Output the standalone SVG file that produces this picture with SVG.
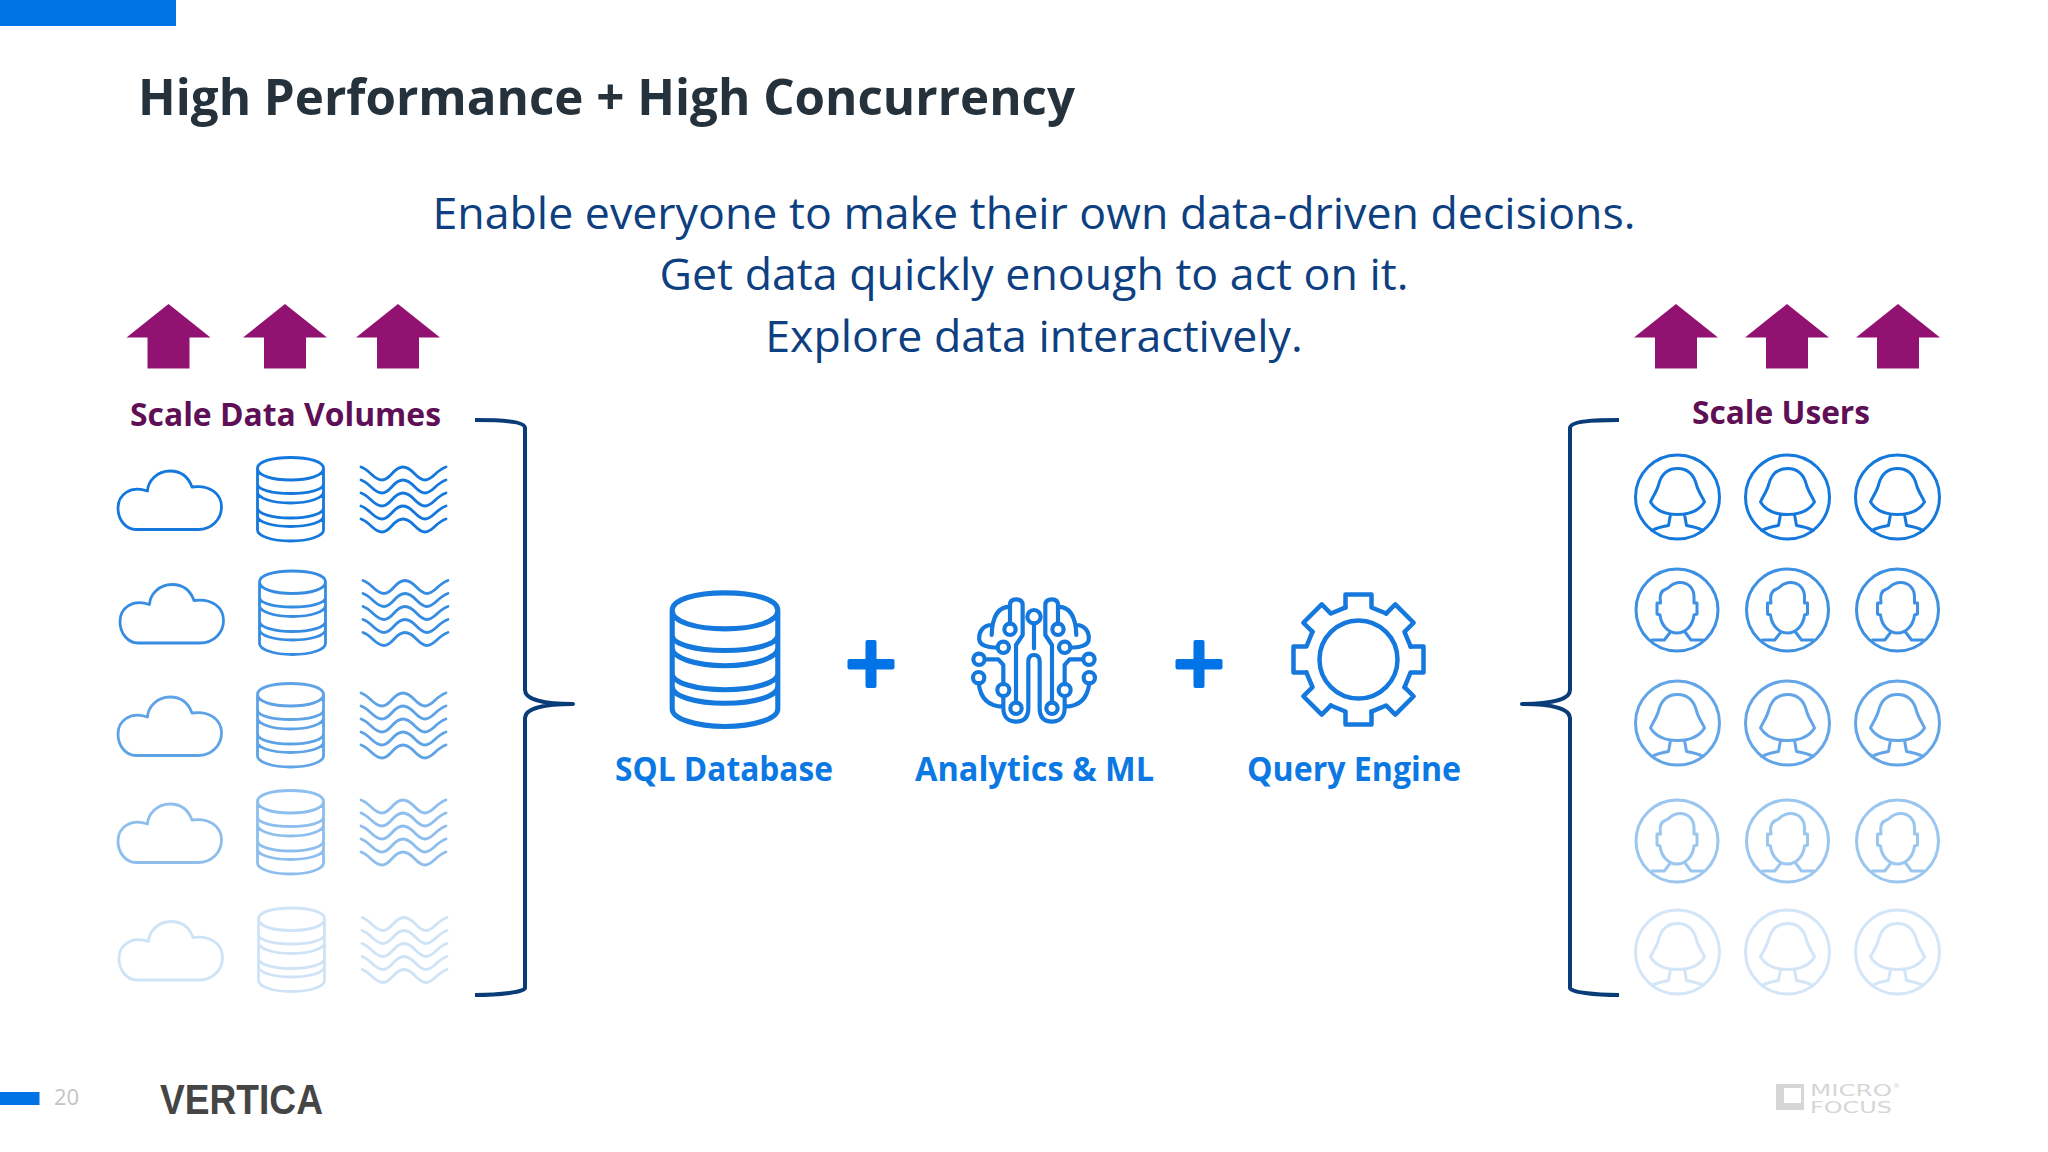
<svg xmlns="http://www.w3.org/2000/svg" xmlns:xlink="http://www.w3.org/1999/xlink" width="2048" height="1152" viewBox="0 0 2048 1152">
<style>
.i{fill:none;stroke:#1478dc;stroke-linecap:round;stroke-linejoin:round}
.s{stroke-width:2.8}
.u{stroke-width:3}
.lab{font-family:"Open Sans","Noto Sans",sans-serif;font-weight:700;font-size:34px;fill:#0b78e3}
.sc{font-family:"Open Sans","Noto Sans",sans-serif;font-weight:700;font-size:33px;fill:#5f0f56}
.sub{font-family:"Open Sans","Noto Sans",sans-serif;font-size:44.700px;fill:#0e3f80;text-anchor:middle}
.arrow{fill:#921272}
.br{fill:none;stroke:#0a3c78;stroke-width:4;stroke-linejoin:round}
.mf{font-family:"DejaVu Sans",sans-serif;font-size:16px;fill:#d6d6d6}
</style>
<defs>
<polygon id="arr" points="0,0 42,33.500 21,33.500 21,64.500 -21,64.500 -21,33.500 -42,33.500"/>
<path id="cloud" d="M136 529.500H198C212 529.500 221.500 519 221.500 507C221.500 494 210 484.500 192 487C188 476 180 471 170 471C157 471 148 481 147.500 491C130 485 118 495 118 508C118 520 126 529.500 136 529.500Z"/>
<path id="db" d="M257.500 468.500C257.500 461.500 272 457.500 290.500 457.500C309 457.500 323.500 461.500 323.500 468.500C323.500 475.500 309 480 290.500 480C272 480 257.500 475.500 257.500 468.500ZM257.500 468.500V484C257.500 489.500 272 493.500 290.500 493.500C309 493.500 323.500 489.500 323.500 484V468.500M257.500 484V492C257.500 498 272 503 290.500 503C309 503 323.500 498 323.500 492V484M257.500 492V508C257.500 513.500 272 518 290.500 518C309 518 323.500 513.500 323.500 508V492M257.500 508V516C257.500 522 272 526.500 290.500 526.500C309 526.500 323.500 522 323.500 516V508M257.500 516V530C257.500 536 272 541 290.500 541C309 541 323.500 536 323.500 530V516"/>
<path id="wave" d="M361 467C370 470 374 480 382 480C391 480 393 467 403 467C413 467 416 480 425 480C433 480 436 470 446 467"/>
<g id="waves"><use href="#wave"/><use href="#wave" y="13"/><use href="#wave" y="26"/><use href="#wave" y="39"/><use href="#wave" y="52"/></g>
<g id="female"><circle r="42"/><path d="M0 -28.500C-12 -28.500 -17 -20 -19 -12C-21 -5 -25 0 -27 5C-22 13 -12 17.500 0 17.500C12 17.500 22 13 27 5C25 0 21 -5 19 -12C17 -20 12 -28.500 0 -28.500ZM-7.300 19L-9 28.500C-15 29.500 -21 31 -25.700 33.500M7.300 19L9 28.500C15 29.500 21 31 25.700 33.500"/></g>
<g id="male"><circle r="41"/><path d="M-16.500 -7C-17.500 -13 -17 -19 -11 -21C-7 -22 -6 -27.500 3 -27.500C12 -27.500 17 -21 17 -13L17 -7H20V4L17 5C16 15 9 23 0 23C-9 23 -16 15 -17 5L-20 4V-7ZM-7.300 23L-12.700 30H-25M8 22L14 30H26"/></g>
<path id="tooth" d="M-13 -52V-65H13V-52L27.800 -46"/>
<g id="brainhalf">
<path d="M150 100V45Q150 28 168 28Q188 28 188 45V135L168 165V335M150 50C120 50 97 70 95 135M95 105C70 105 55 125 58 150C60 165 85 175 113 172M75 208H115L130 225V283M56 280C62 330 90 350 130 350M130 318V355C130 385 150 395 168 395C190 395 205 385 205 355V215Q205 195 222 195"/>
<circle cx="150" cy="118" r="17"/><circle cx="130" cy="172" r="17"/><circle cx="57" cy="208" r="17"/><circle cx="56" cy="263" r="17"/><circle cx="130" cy="300" r="18"/><circle cx="168" cy="355" r="17"/>
</g>
</defs>
<rect width="2048" height="1152" fill="#fff"/>
<rect id="top-bar" width="176" height="26" fill="#0073e7"/>
<text id="title" x="138" y="115" font-family="'Open Sans','Noto Sans',sans-serif" font-weight="700" font-size="50" fill="#25313b" textLength="937" lengthAdjust="spacingAndGlyphs">High Performance + High Concurrency</text>
<g id="subtitle" class="sub">
<text x="1034" y="229">Enable everyone to make their own data-driven decisions.</text>
<text x="1034" y="290">Get data quickly enough to act on it.</text>
<text x="1034" y="351.500">Explore data interactively.</text>
</g>
<g id="arrows-left" class="arrow"><use href="#arr" x="168.500" y="304"/><use href="#arr" x="285" y="304"/><use href="#arr" x="398" y="304"/></g>
<g id="arrows-right" class="arrow"><use href="#arr" x="1676" y="304"/><use href="#arr" x="1787" y="304"/><use href="#arr" x="1898" y="304"/></g>
<text id="scale-data" class="sc" x="130" y="426" textLength="311" lengthAdjust="spacingAndGlyphs">Scale Data Volumes</text>
<text id="scale-users" class="sc" x="1692" y="424" textLength="178" lengthAdjust="spacingAndGlyphs">Scale Users</text>
<g id="connectors">
<path class="br" d="M475 420C500 420 525 421 525 428V690C525 700 545 704 573 704C545 704 525 708 525 718V988C525 992 500 995 475 995"/>
<path class="br" d="M1619 420C1594 420 1570 421 1570 428V690C1570 700 1550 704 1522 704C1550 704 1570 708 1570 718V988C1570 992 1594 995 1619 995"/>
</g>
<g id="data-row-1" class="i s"><g id="cloud-1"><use href="#cloud"/></g><g id="db-1"><use href="#db"/></g><g id="waves-1"><use href="#waves"/></g></g>
<g id="data-row-2" class="i s" opacity=".85" transform="translate(2 113.500)"><g id="cloud-2"><use href="#cloud"/></g><g id="db-2"><use href="#db"/></g><g id="waves-2"><use href="#waves"/></g></g>
<g id="data-row-3" class="i s" opacity=".68" transform="translate(0 226)"><g id="cloud-3"><use href="#cloud"/></g><g id="db-3"><use href="#db"/></g><g id="waves-3"><use href="#waves"/></g></g>
<g id="data-row-4" class="i s" opacity=".48" transform="translate(0 333)"><g id="cloud-4"><use href="#cloud"/></g><g id="db-4"><use href="#db"/></g><g id="waves-4"><use href="#waves"/></g></g>
<g id="data-row-5" class="i s" opacity=".2" transform="translate(1 450.500)"><g id="cloud-5"><use href="#cloud"/></g><g id="db-5"><use href="#db"/></g><g id="waves-5"><use href="#waves"/></g></g>
<g id="sql-database">
<use href="#db" class="i" stroke-width="3.200" transform="translate(725 610.500) scale(1.600) translate(-290.500 -468.500)"/>
<text class="lab" x="615" y="781" textLength="218" lengthAdjust="spacingAndGlyphs">SQL Database</text>
</g>
<g id="plus-1" fill="#0073e7"><rect x="847.500" y="659" width="47" height="10.500" rx="2"/><rect x="865.500" y="640" width="11" height="48" rx="2"/></g>
<g id="analytics-ml">
<g class="i" stroke-width="12.500" transform="translate(960 590) scale(.3333)">
<use href="#brainhalf"/><use href="#brainhalf" transform="translate(444 0) scale(-1 1)"/>
<circle cx="222" cy="80" r="20"/><path d="M222 100V175"/>
</g>
<text class="lab" x="915" y="781" textLength="239" lengthAdjust="spacingAndGlyphs">Analytics &amp; ML</text>
</g>
<g id="plus-2" fill="#0073e7"><rect x="1175.500" y="659" width="47" height="10.500" rx="2"/><rect x="1193.500" y="640" width="11" height="48" rx="2"/></g>
<g id="query-engine">
<g class="i" stroke-width="4.500" transform="translate(1358.500 659.500)">
<circle r="39"/>
<use href="#tooth"/><use href="#tooth" transform="rotate(45)"/><use href="#tooth" transform="rotate(90)"/><use href="#tooth" transform="rotate(135)"/><use href="#tooth" transform="rotate(180)"/><use href="#tooth" transform="rotate(225)"/><use href="#tooth" transform="rotate(270)"/><use href="#tooth" transform="rotate(315)"/>
</g>
<text class="lab" x="1247" y="781" textLength="214" lengthAdjust="spacingAndGlyphs">Query Engine</text>
</g>
<g id="users-row-1" class="i u"><g id="user-1-1"><use href="#female" x="1677.500" y="497"/></g><g id="user-1-2"><use href="#female" x="1787.500" y="497"/></g><g id="user-1-3"><use href="#female" x="1897.500" y="497"/></g></g>
<g id="users-row-2" class="i u" opacity=".82"><g id="user-2-1"><use href="#male" x="1677" y="610"/></g><g id="user-2-2"><use href="#male" x="1787.500" y="610"/></g><g id="user-2-3"><use href="#male" x="1897.500" y="610"/></g></g>
<g id="users-row-3" class="i u" opacity=".66"><g id="user-3-1"><use href="#female" x="1677.500" y="723"/></g><g id="user-3-2"><use href="#female" x="1787.500" y="723"/></g><g id="user-3-3"><use href="#female" x="1897.500" y="723"/></g></g>
<g id="users-row-4" class="i u" opacity=".42"><g id="user-4-1"><use href="#male" x="1677" y="841"/></g><g id="user-4-2"><use href="#male" x="1787.500" y="841"/></g><g id="user-4-3"><use href="#male" x="1897.500" y="841"/></g></g>
<g id="users-row-5" class="i u" opacity=".18"><g id="user-5-1"><use href="#female" x="1677.500" y="952"/></g><g id="user-5-2"><use href="#female" x="1787.500" y="952"/></g><g id="user-5-3"><use href="#female" x="1897.500" y="952"/></g></g>
<g id="footer">
<rect x="0" y="1092" width="39.500" height="13" fill="#0073e7"/>
<text x="54" y="1105" font-family="'Open Sans',sans-serif" font-size="22" fill="#c4c4c4">20</text>
<text x="160" y="1114" font-family="'Liberation Sans',sans-serif" font-weight="700" font-size="42" fill="#454545" textLength="163" lengthAdjust="spacingAndGlyphs">VERTICA</text>
<path d="M1776 1084H1804V1110H1776ZM1784 1088V1103H1801V1088Z" fill="#d6d6d6" fill-rule="evenodd"/>
<text class="mf" x="1810" y="1096" textLength="82" lengthAdjust="spacingAndGlyphs">MICRO</text>
<text class="mf" x="1810" y="1113" textLength="82" lengthAdjust="spacingAndGlyphs">FOCUS</text>
<text x="1893" y="1088" font-family="'DejaVu Sans',sans-serif" font-size="7" fill="#d6d6d6">®</text>
</g>
</svg>
